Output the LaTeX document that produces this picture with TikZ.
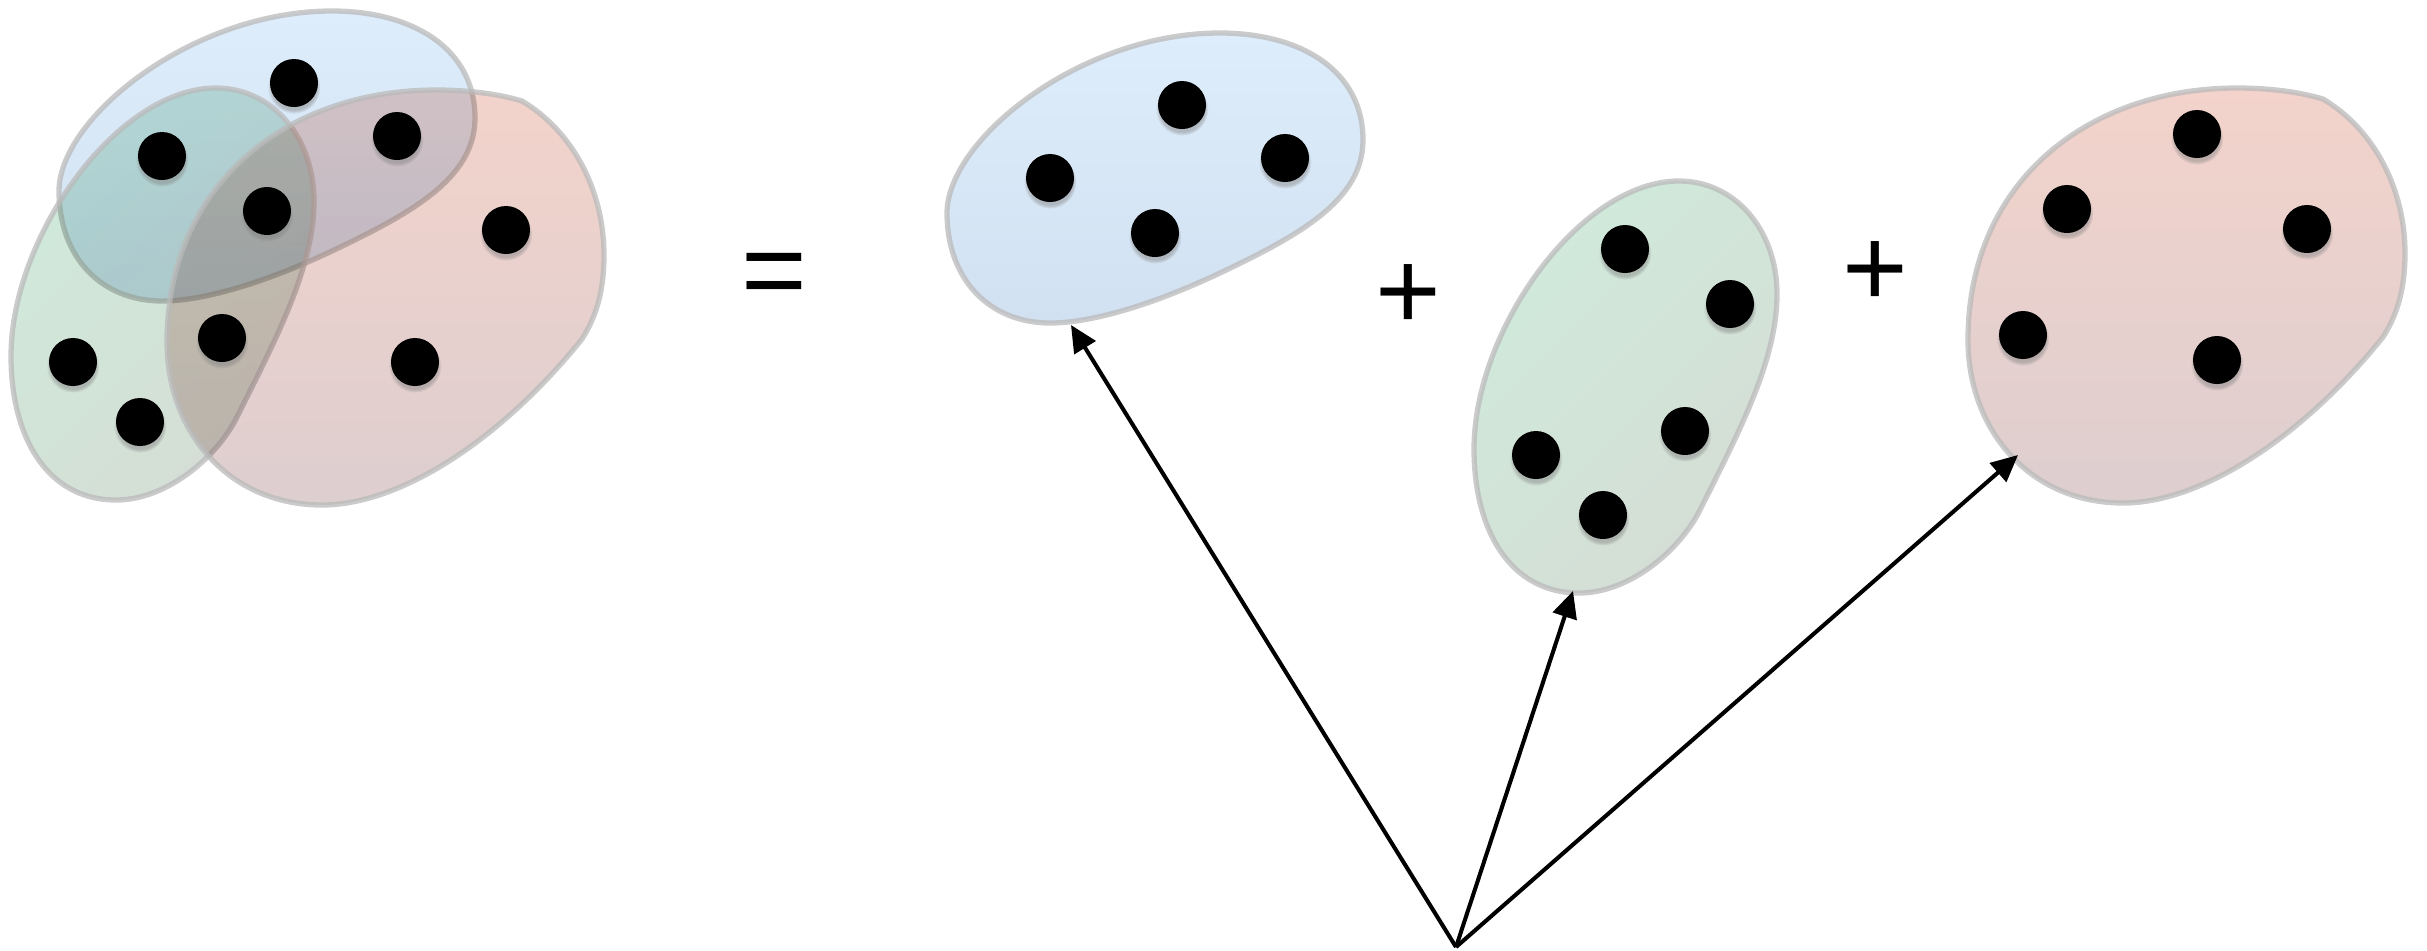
\documentclass[tikz,border=0pt]{standalone}
\usepackage{fontspec}
\setmainfont{Liberation Sans}
\usetikzlibrary{arrows.meta}
\usetikzlibrary{fadings}
\usetikzlibrary{shadows}
\definecolor{colAzul}{RGB}{222,237,251}
\definecolor{colAzulBajo}{RGB}{210,225,241}
\definecolor{colVerde}{RGB}{207,234,219}
\definecolor{colVerdeBajo}{RGB}{213,221,213}
\definecolor{colRojo}{RGB}{243,211,203}
\definecolor{colRojoBajo}{RGB}{221,206,207}
\definecolor{colBorde}{RGB}{186,186,186}
% contornos de los grupos (en pixeles, y hacia abajo)
\newcommand{\contornoAzul}{(947,213) .. controls (947,140) and (1080,33) .. (1220,33)
  .. controls (1300,33) and (1363,70) .. (1363,140)
  .. controls (1363,200) and (1300,235) .. (1220,273)
  .. controls (1150,306) and (1090,323) .. (1050,323)
  .. controls (990,323) and (947,280) .. cycle}
\newcommand{\contornoVerde}{(1474,449) .. controls (1474,330) and (1580,181) .. (1679,181)
  .. controls (1735,181) and (1777,230) .. (1777,294)
  .. controls (1777,360) and (1740,430) .. (1700,510)
  .. controls (1680,550) and (1630,593) .. (1579,593)
  .. controls (1510,593) and (1474,530) .. cycle}
\newcommand{\contornoRojo}{(1968,340) .. controls (1968,180) and (2090,88) .. (2237,88)
  .. controls (2270,88) and (2300,92) .. (2323,99)
  .. controls (2375,130) and (2405,190) .. (2405,253)
  .. controls (2405,290) and (2397,315) .. (2383,337)
  .. controls (2300,440) and (2200,503) .. (2123,503)
  .. controls (2030,503) and (1968,430) .. cycle}
\tikzset{
  relleno/.style={blend mode=multiply},
  borde/.style={draw=colBorde, draw opacity=0.75, line width=1.5pt},
  punto/.style={
    circle, fill=black, minimum size=0.48cm, inner sep=0pt,
    circular drop shadow={shadow xshift=0pt, shadow yshift=-1.1pt,
      shadow scale=1.1, opacity=0.45}
  },
  flecha/.style={-{Triangle[length=7.6pt, width=7pt]}, line width=1.15pt},
  signo/.style={font=\fontsize{32}{32}\selectfont, inner sep=0pt, anchor=base},
  manchaAzul/.pic={
    \path[relleno, top color=colAzul, bottom color=colAzulBajo] \contornoAzul;
    \draw[borde] \contornoAzul;
  },
  manchaVerde/.pic={
    \path[relleno, top color=colVerde, bottom color=colVerdeBajo, shading angle=45] \contornoVerde;
    \draw[borde] \contornoVerde;
  },
  manchaRoja/.pic={
    \path[relleno, top color=colRojo, bottom color=colRojoBajo] \contornoRojo;
    \draw[borde] \contornoRojo;
  }
}

\begin{document}
\begin{tikzpicture}[x=0.01cm, y=-0.01cm]
  \useasboundingbox (0,0) rectangle (2427,950);

  % union de los tres grupos
  \pic at (-888,-22) {manchaAzul};
  \pic at (-1463,-93) {manchaVerde};
  \pic at (-1801,2) {manchaRoja};
  \foreach \x/\y [count=\i] in {294/83, 162/156, 397/136, 267/211, 506/230,
      73/362, 222/338, 140/422, 415/362}
    \node[punto] (u\i) at (\x,\y) {};

  \node[signo] (igual) at (774,308) {=};

  % grupos por separado
  \pic at (0,0) {manchaAzul};
  \foreach \x/\y [count=\i] in {1182/105, 1050/178, 1285/158, 1155/233}
    \node[punto] (a\i) at (\x,\y) {};

  \node[signo] (mas1) at (1408,329) {+};

  \pic at (0,0) {manchaVerde};
  \foreach \x/\y [count=\i] in {1625/249, 1730/304, 1536/455, 1685/431, 1603/515}
    \node[punto] (v\i) at (\x,\y) {};

  \node[signo] (mas2) at (1875,306) {+};

  \pic at (0,0) {manchaRoja};
  \foreach \x/\y [count=\i] in {2197/134, 2067/209, 2307/229, 2023/335, 2217/360}
    \node[punto] (r\i) at (\x,\y) {};

  % flechas desde abajo
  \coordinate (origen) at (1456,947);
  \coordinate (puntaA) at (1071,325);
  \coordinate (puntaV) at (1573,591);
  \coordinate (puntaR) at (2018,455);
  \draw[flecha] (origen) -- (puntaA);
  \draw[flecha] (origen) -- (puntaV);
  \draw[flecha] (origen) -- (puntaR);
\end{tikzpicture}
\end{document}
